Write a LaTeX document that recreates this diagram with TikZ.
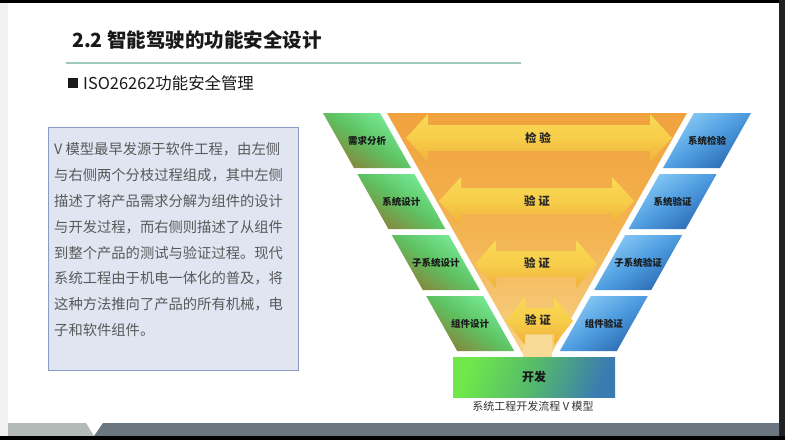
\documentclass[tikz,border=0pt]{standalone}
\usepackage{fontspec}
\setmainfont{Noto Sans CJK SC}
\newfontfamily\cjk{Noto Sans CJK SC}
\definecolor{rulegreen}{HTML}{9FCAB8}
\definecolor{boxfill}{HTML}{DFE6F2}
\definecolor{boxline}{HTML}{8A9CC4}
\definecolor{bodytext}{HTML}{595959}
\definecolor{gtop}{HTML}{78EE9C}
\definecolor{gmid}{HTML}{5EC262}
\definecolor{gbot}{HTML}{8A8038}
\definecolor{btop}{HTML}{8ACBF6}
\definecolor{bmid}{HTML}{4F9DE0}
\definecolor{bbot}{HTML}{2A68B0}
\definecolor{otop}{HTML}{F0A23E}
\definecolor{omid}{HTML}{F3B452}
\definecolor{obot}{HTML}{F8D288}
\definecolor{ytop}{HTML}{F9DA55}
\definecolor{ymid}{HTML}{F7CD4A}
\definecolor{ybot}{HTML}{F0B03A}
\definecolor{devgreen}{HTML}{6EE84A}
\definecolor{devmid}{HTML}{55B96C}
\definecolor{devblue}{HTML}{3B7CB0}
\definecolor{stripgray}{HTML}{F2F2F2}
\definecolor{barlight}{HTML}{B4BAB7}
\definecolor{bardark}{HTML}{6B7780}
\definecolor{framedark}{HTML}{1F2023}
\definecolor{captext}{HTML}{333333}
\definecolor{palestem}{HTML}{F9DB98}
\newcommand\vdblarrow[4]{%
  \shade[arrowshade] (#1,#3) -- (#1+#4,#3-24) -- (#1+#4,#3-13) -- (#2-#4,#3-13)
    -- (#2-#4,#3-24) -- (#2,#3) -- (#2-#4,#3+24) -- (#2-#4,#3+13)
    -- (#1+#4,#3+13) -- (#1+#4,#3+24) -- cycle;}
\begin{document}
\begin{tikzpicture}[x=1pt,y=-1pt,
  greenshade/.style={top color=gtop,bottom color=gbot,middle color=gmid,shading angle=-35},
  blueshade/.style={top color=btop,bottom color=bbot,middle color=bmid,shading angle=35},
  arrowshade/.style={top color=ytop,bottom color=ybot,middle color=ymid},
  plabel/.style={font=\fontsize{9.5}{11}\selectfont\bfseries,text=black!90,inner sep=0},
  alabel/.style={font=\fontsize{11.5}{13}\selectfont\bfseries,text=black!85,inner sep=0},
  bodyline/.style={font=\fontsize{14.3}{16}\selectfont,text=bodytext,anchor=base west,inner sep=0}]
\useasboundingbox (0,0) rectangle (785,440);
% frame
\fill[white] (0,0) rectangle (785,440);
\fill[stripgray] (0,0) rectangle (8,440);
\fill[black] (0,0) rectangle (785,3);
\fill[framedark] (779,0) rectangle (785,440);
\fill[barlight] (8,423) -- (86,423) -- (94,436) -- (8,436) -- cycle;
\fill[bardark] (103,423) -- (779,423) -- (779,436) -- (94,436) -- cycle;
\fill[black] (0,436) rectangle (785,440);
% title
\node[anchor=base west,inner sep=0,font=\fontsize{19.5}{23}\selectfont\bfseries,text=black!90] (title) at (72,47) {2.2 智能驾驶的功能安全设计};
\draw[rulegreen,line width=2.5pt] (66,63) -- (521,63);
\node[fill=black!90,minimum size=9.5pt,inner sep=0] (bullet) at (73,83) {};
\node[anchor=base west,inner sep=0,font=\fontsize{16.4}{19}\selectfont,text=black!90] (subtitle) at (83,89) {ISO26262功能安全管理};
% text box
\node[draw=boxline,fill=boxfill,line width=0.8pt,minimum width=250pt,minimum height=243pt,anchor=north west,inner sep=0] (textbox) at (48,127) {};
\foreach \t [count=\i from 0] in {V 模型最早发源于软件工程，由左侧,与右侧两个分枝过程组成，其中左侧,描述了将产品需求分解为组件的设计,与开发过程，而右侧则描述了从组件,到整个产品的测试与验证过程。现代,系统工程由于机电一体化的普及，将,这种方法推向了产品的所有机械，电,子和软件组件。}
  \node[bodyline] (line\i) at (54,154.9+25.8*\i) {\t};
% V shape
\shade[top color=otop,bottom color=obot,middle color=omid] (387,113) -- (687,113) -- (549.4,357) -- (524.6,357) -- cycle;
\fill[palestem] (523,335) rectangle (552,357);
\vdblarrow{406}{672}{138}{22}
\vdblarrow{439}{634}{201}{22}
\vdblarrow{475}{597}{264}{21}
\vdblarrow{506}{573}{321}{19}
\node[alabel] (a1) at (538,138) {检 验};
\node[alabel] (a2) at (537,201) {验 证};
\node[alabel] (a3) at (537,263) {验 证};
\node[alabel] (a4) at (538,320) {验 证};
% side parallelograms
\foreach \i in {0,...,3}{
  \pgfmathsetmacro\xl{323+34.4*\i}
  \pgfmathsetmacro\xr{1074-323-34.4*\i}
  \pgfmathsetmacro\yt{113+61*\i}
  \shade[greenshade] (\xl,\yt) -- ++(57,0) -- ++(31,55) -- ++(-57,0) -- cycle;
  \shade[blueshade] (\xr,\yt) -- ++(-57,0) -- ++(-31,55) -- ++(57,0) -- cycle;
}
\node[plabel] (g1) at (367,140.5) {需求分析};
\node[plabel] (g2) at (401.4,201.5) {系统设计};
\node[plabel] (g3) at (435.8,262.5) {子系统设计};
\node[plabel] (g4) at (470.2,323.5) {组件设计};
\node[plabel] (b1) at (707,140.5) {系统检验};
\node[plabel] (b2) at (672.6,201.5) {系统验证};
\node[plabel] (b3) at (638.2,262.5) {子系统验证};
\node[plabel] (b4) at (603.8,323.5) {组件验证};
% development box
\node[left color=devgreen,right color=devblue,middle color=devmid,shading angle=70,minimum width=162pt,minimum height=40pt,inner sep=0,font=\fontsize{12}{14}\selectfont\bfseries,text=black!90] (dev) at (534,377) {开发};
\node[font=\fontsize{11}{13}\selectfont,text=captext,inner sep=0] (caption) at (533,406) {系统工程开发流程\ V\ 模型};
\end{tikzpicture}
\end{document}
